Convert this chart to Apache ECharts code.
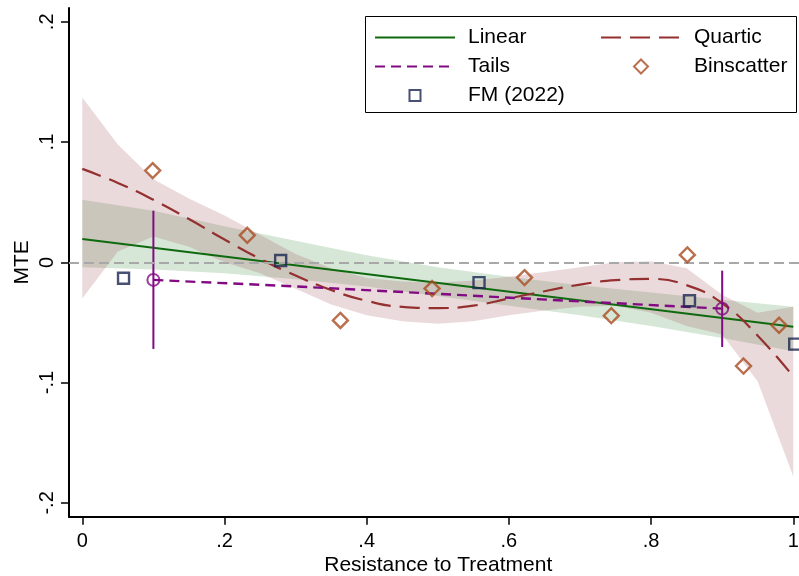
<!DOCTYPE html>
<html>
<head>
<meta charset="utf-8">
<script src="https://cdn.jsdelivr.net/npm/echarts@6/dist/echarts.min.js"></script>
<style>
html,body{margin:0;padding:0;background:#fff;}
#chart{width:799px;height:576px;}
</style>
</head>
<body>
<div id="chart"></div>
<script>
// ---- tick labels ----
const xTicks = [0, 0.2, 0.4, 0.6, 0.8, 1];
const xTickLabels = ['0', '.2', '.4', '.6', '.8', '1'];
const yTicks = [-0.2, -0.1, 0, 0.1, 0.2];
const yTickLabels = ['-.2', '-.1', '0', '.1', '.2'];

// ---- Linear fit ----
const linearX = [0, 1];
const linearY = [0.0195, -0.0535];
// Linear CI band
const linBandX = [0, 0.1, 0.2, 0.3, 0.4, 0.5, 0.6, 0.7, 0.8, 0.9, 1.0];
const linUpper = [0.052, 0.043, 0.030, 0.018, 0.006, -0.004, -0.012, -0.019, -0.025, -0.031, -0.037];
const linLower = [-0.004, -0.006, -0.009, -0.014, -0.020, -0.028, -0.036, -0.044, -0.053, -0.063, -0.074];

// ---- Quartic fit ----
const quartX = [0, 0.05, 0.1, 0.15, 0.2, 0.25, 0.3, 0.35, 0.4, 0.45, 0.5, 0.55, 0.6, 0.65, 0.7, 0.75, 0.8, 0.85, 0.9, 0.95, 1.0];
const quartY = [0.0777, 0.066, 0.052, 0.036, 0.019, 0.003, -0.011, -0.023, -0.032, -0.037, -0.038, -0.036, -0.030, -0.024, -0.0185, -0.0148, -0.0138, -0.019, -0.034, -0.061, -0.095];
// Quartic CI band
const quartUpper = [0.137, 0.098, 0.069, 0.053, 0.039, 0.023, 0.007, -0.005, -0.013, -0.016, -0.017, -0.015, -0.012, -0.008, -0.004, 0.000, 0.001, -0.005, -0.027, -0.042, -0.037];
const quartLower = [-0.030, 0.009, 0.0215, 0.013, 0.000, -0.009, -0.022, -0.035, -0.044, -0.049, -0.051, -0.049, -0.044, -0.040, -0.037, -0.036, -0.042, -0.053, -0.060, -0.099, -0.178];

// ---- Tails ----
const tailsX = [0.1, 0.3, 0.5, 0.7, 0.9];
const tailsY = [-0.0146, -0.0200, -0.0262, -0.0325, -0.0385];
const tailsPtX = [0.1, 0.9];
const tailsPtY = [-0.0146, -0.0385];
const tailsLo = [-0.072, -0.0704];
const tailsHi = [0.043, -0.0069];

// ---- Binscatter ----
const binX = [0.099, 0.232, 0.363, 0.492, 0.622, 0.744, 0.851, 0.930, 0.980];
const binY = [0.0763, 0.0225, -0.0483, -0.0218, -0.0127, -0.0443, 0.0062, -0.0862, -0.0523];

// ---- FM (2022) ----
const fmX = [0.058, 0.279, 0.558, 0.854, 1.002];
const fmY = [-0.0132, 0.0016, -0.0169, -0.0319, -0.0680];

const FONT = 'Liberation Sans, Arial, Helvetica, sans-serif';
const C_GREEN = '#0f6a0f';
const C_QUART = '#953030';
const C_PURPLE = '#820a82';
const C_BIN = '#a84c20';
const C_FM = '#1a2550';

function pairs(xs, ys) { return xs.map((x, i) => [x, ys[i]]); }
function tickLabel(vals, labels) {
  return function (v) {
    for (let i = 0; i < vals.length; i++) if (Math.abs(vals[i] - v) < 1e-9) return labels[i];
    return '';
  };
}
function bandSeries(name, xs, up, lo, fill) {
  return {
    name: name, type: 'custom', silent: true, z: 1,
    data: xs.map((x, i) => [x, up[i], lo[i]]),
    encode: {x: 0, y: [1, 2]},
    renderItem: function (params, api) {
      if (params.dataIndex !== 0) return null;
      const pts = [];
      for (let i = 0; i < xs.length; i++) pts.push(api.coord([xs[i], up[i]]));
      for (let i = xs.length - 1; i >= 0; i--) pts.push(api.coord([xs[i], lo[i]]));
      return {type: 'polygon', shape: {points: pts}, style: {fill: fill}};
    }
  };
}

const chart = echarts.init(document.getElementById('chart'), null, {renderer: 'canvas'});

const legendText = {fontSize: 21, color: '#000', fontFamily: FONT, lineHeight: 21, padding: [0, 0, 0, 8]};
const hideDot = {color: 'rgba(0,0,0,0)', borderColor: 'rgba(0,0,0,0)', borderWidth: 0};

const option = {
  animation: false,
  backgroundColor: '#fff',
  grid: {left: 69, top: 8, width: 738.5, height: 508.7, containLabel: false, outerBoundsMode: 'none'},
  xAxis: {
    type: 'value', min: -0.0187, max: 1.02,
    name: 'Resistance to Treatment', nameLocation: 'middle', nameGap: 38, nameMoveOverlap: false,
    nameTextStyle: {fontSize: 21, color: '#000', fontFamily: FONT},
    axisLine: {onZero: false, lineStyle: {color: '#000', width: 2}},
    axisTick: {show: true, length: 8, customValues: xTicks, lineStyle: {color: '#000', width: 1.5}},
    axisLabel: {customValues: xTicks, formatter: tickLabel(xTicks, xTickLabels), fontSize: 20, color: '#000', fontFamily: FONT, margin: 15},
    splitLine: {show: false}
  },
  yAxis: {
    type: 'value', min: -0.2115, max: 0.2115,
    name: 'MTE', nameLocation: 'middle', nameGap: 36, nameRotate: 90, nameMoveOverlap: false,
    nameTextStyle: {fontSize: 21, color: '#000', fontFamily: FONT},
    axisLine: {onZero: false, lineStyle: {color: '#000', width: 2}},
    axisTick: {show: true, length: 8, customValues: yTicks, lineStyle: {color: '#000', width: 1.5}},
    axisLabel: {customValues: yTicks, formatter: tickLabel(yTicks, yTickLabels), rotate: 90, fontSize: 20, color: '#000', fontFamily: FONT, margin: 12},
    splitLine: {show: false}
  },
  legend: [
    {orient: 'vertical', left: 374, top: 27, padding: 0, itemGap: 8, itemWidth: 80, itemHeight: 14, selectedMode: false, data: ['Linear', 'Tails'], textStyle: legendText, itemStyle: hideDot},
    {orient: 'vertical', left: 600, top: 27, padding: 0, itemGap: 8, itemWidth: 80, itemHeight: 14, selectedMode: false, data: ['Quartic'], textStyle: legendText, itemStyle: hideDot},
    {orient: 'vertical', left: 633, top: 56, padding: 0, itemGap: 8, itemWidth: 14, itemHeight: 14, selectedMode: false, data: ['Binscatter'], textStyle: Object.assign({}, legendText, {padding: [0, 0, 0, 41]})},
    {orient: 'vertical', left: 408.5, top: 85, padding: 0, itemGap: 8, itemWidth: 11, itemHeight: 11, selectedMode: false, data: ['FM (2022)'], textStyle: Object.assign({}, legendText, {padding: [0, 0, 0, 42.5]})}
  ],
  graphic: [{
    type: 'rect', z: 3, silent: true,
    shape: {x: 365.5, y: 16.5, width: 431, height: 96},
    style: {fill: '#fff', stroke: '#000', lineWidth: 1}
  }],
  series: [
    bandSeries('linBand', linBandX, linUpper, linLower, 'rgba(20,110,20,0.17)'),
    bandSeries('quartBand', quartX, quartUpper, quartLower, 'rgba(150,60,70,0.19)'),
    // lines
    {name: 'Linear', type: 'line', data: pairs(linearX, linearY), symbol: 'none', lineStyle: {color: C_GREEN, width: 2}, itemStyle: {color: C_GREEN}, z: 3,
      markLine: {silent: true, symbol: ['none', 'none'], label: {show: false}, data: [{yAxis: 0}],
        lineStyle: {color: '#a8a8a8', type: [10, 5], width: 2}}},
    {name: 'Quartic', type: 'line', data: pairs(quartX, quartY), symbol: 'none', smooth: true, lineStyle: {color: C_QUART, width: 2.2, type: [20, 9]}, itemStyle: {color: C_QUART}, z: 3},
    {name: 'Tails', type: 'line', data: pairs(tailsX, tailsY), symbol: 'none', lineStyle: {color: C_PURPLE, width: 2.4, type: [10, 6]}, itemStyle: {color: C_PURPLE}, z: 3},
    // tails CI bars
    {name: 'tailsCI', type: 'custom', data: tailsPtX.map((x, i) => [x, tailsLo[i], tailsHi[i]]), encode: {x: 0, y: [1, 2]}, z: 4, silent: true,
      renderItem: function (params, api) {
        const p1 = api.coord([api.value(0), api.value(1)]);
        const p2 = api.coord([api.value(0), api.value(2)]);
        return {type: 'line', shape: {x1: p1[0], y1: p1[1], x2: p2[0], y2: p2[1]}, style: {stroke: C_PURPLE, lineWidth: 2}};
      }},
    {name: 'tailsPts', type: 'scatter', data: pairs(tailsPtX, tailsPtY), symbol: 'circle', symbolSize: 12, itemStyle: {color: 'rgba(0,0,0,0)', borderColor: C_PURPLE, borderWidth: 2}, z: 5, silent: true},
    // markers
    {name: 'FM (2022)', type: 'scatter', data: pairs(fmX, fmY), symbol: 'rect', symbolSize: 11, itemStyle: {color: 'rgba(0,0,0,0)', borderColor: C_FM, borderWidth: 2.4}, z: 5},
    {name: 'Binscatter', type: 'scatter', data: pairs(binX, binY), symbol: 'diamond', symbolSize: 15, itemStyle: {color: 'rgba(0,0,0,0)', borderColor: C_BIN, borderWidth: 2.4}, z: 5}
  ]
};
chart.setOption(option);
</script>
</body>
</html>
